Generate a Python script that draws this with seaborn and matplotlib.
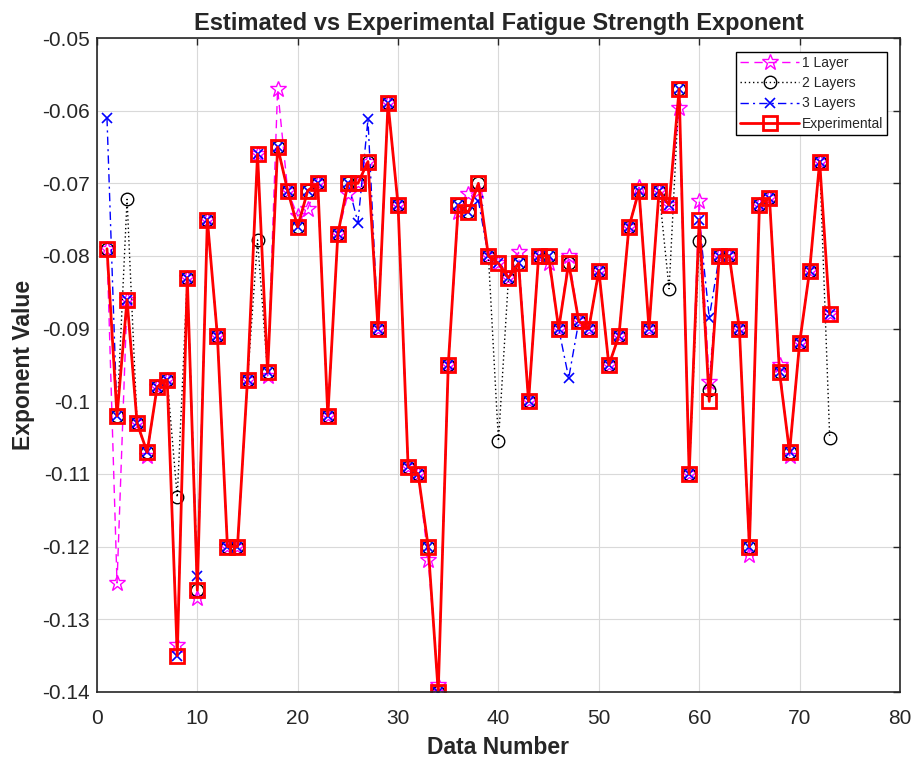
import matplotlib
matplotlib.use("Agg")
import matplotlib.pyplot as plt
import seaborn as sns
import numpy as np
import pandas as pd

data_number = list(range(1, 74))

experimental = [-0.079, -0.102, -0.086, -0.103, -0.107, -0.098, -0.097, -0.135, -0.083, -0.126,
                -0.075, -0.091, -0.120, -0.120, -0.097, -0.066, -0.096, -0.065, -0.071, -0.076,
                -0.071, -0.070, -0.102, -0.077, -0.070, -0.070, -0.067, -0.090, -0.059, -0.073,
                -0.109, -0.110, -0.120, -0.140, -0.095, -0.073, -0.074, -0.070, -0.080, -0.081,
                -0.083, -0.081, -0.100, -0.080, -0.080, -0.090, -0.081, -0.089, -0.090, -0.082,
                -0.095, -0.091, -0.076, -0.071, -0.090, -0.071, -0.073, -0.057, -0.110, -0.075,
                -0.100, -0.080, -0.080, -0.090, -0.120, -0.073, -0.072, -0.096, -0.107, -0.092,
                -0.082, -0.067, -0.088]

layer1 = [-0.079, -0.125, -0.086, -0.103, -0.1075, -0.098, -0.097, -0.1335, -0.083, -0.127,
          -0.075, -0.091, -0.120, -0.120, -0.097, -0.066, -0.0965, -0.057, -0.071, -0.0745,
          -0.0735, -0.070, -0.102, -0.077, -0.0715, -0.070, -0.067, -0.090, -0.059, -0.073,
          -0.109, -0.110, -0.1218, -0.139, -0.095, -0.074, -0.0715, -0.071, -0.080, -0.081,
          -0.083, -0.0795, -0.100, -0.080, -0.081, -0.090, -0.080, -0.089, -0.090, -0.082,
          -0.095, -0.091, -0.076, -0.0705, -0.090, -0.071, -0.073, -0.0597, -0.110, -0.0724,
          -0.0974, -0.080, -0.080, -0.090, -0.1212, -0.073, -0.072, -0.095, -0.1075, -0.092,
          -0.082, -0.067, -0.088]

layer2 = [-0.079, -0.102, -0.0722, -0.103, -0.107, -0.098, -0.097, -0.1132, -0.083, -0.126,
          -0.075, -0.091, -0.120, -0.120, -0.097, -0.0778, -0.096, -0.065, -0.071, -0.076,
          -0.071, -0.070, -0.102, -0.077, -0.070, -0.070, -0.067, -0.090, -0.059, -0.073,
          -0.109, -0.110, -0.120, -0.140, -0.095, -0.073, -0.074, -0.070, -0.080, -0.1055,
          -0.083, -0.081, -0.100, -0.080, -0.080, -0.090, -0.081, -0.089, -0.090, -0.082,
          -0.095, -0.091, -0.076, -0.071, -0.090, -0.071, -0.0845, -0.057, -0.110, -0.078,
          -0.0985, -0.080, -0.080, -0.090, -0.120, -0.073, -0.072, -0.096, -0.107, -0.092,
          -0.082, -0.067, -0.105]

layer3 = [-0.061, -0.102, -0.086, -0.103, -0.107, -0.098, -0.097, -0.135, -0.083, -0.124,
          -0.075, -0.091, -0.120, -0.120, -0.097, -0.066, -0.096, -0.065, -0.071, -0.076,
          -0.071, -0.070, -0.102, -0.077, -0.070, -0.0754, -0.0612, -0.090, -0.059, -0.073,
          -0.109, -0.110, -0.120, -0.140, -0.095, -0.073, -0.074, -0.0724, -0.080, -0.081,
          -0.083, -0.081, -0.100, -0.080, -0.080, -0.090, -0.0968, -0.089, -0.090, -0.082,
          -0.095, -0.091, -0.076, -0.071, -0.090, -0.071, -0.073, -0.057, -0.110, -0.075,
          -0.0885, -0.080, -0.080, -0.090, -0.120, -0.073, -0.072, -0.096, -0.107, -0.092,
          -0.082, -0.067, -0.088]

series_names = ["1 Layer", "2 Layers", "3 Layers", "Experimental"]
x_ticks = [0, 10, 20, 30, 40, 50, 60, 70, 80]
y_ticks = [-0.05, -0.06, -0.07, -0.08, -0.09, -0.10, -0.11, -0.12, -0.13, -0.14]
y_tick_labels = ["-0.05", "-0.06", "-0.07", "-0.08", "-0.09", "-0.1", "-0.11", "-0.12", "-0.13", "-0.14"]

sns.set_theme(style="whitegrid")
plt.rcParams["font.family"] = ["Liberation Sans", "DejaVu Sans"]

fig = plt.figure(figsize=(9.12, 7.6), dpi=100)
ax = fig.add_axes([0.1063, 0.0895, 0.8805, 0.8605])

styles = [
    dict(color="#ff00ff", linestyle=(0, (6, 4)), marker="*", markersize=12,
         markerfacecolor="none", markeredgecolor="#ff00ff", markeredgewidth=1.0, linewidth=1.0),
    dict(color="black", linestyle=(0, (1, 2)), marker="o", markersize=9,
         markerfacecolor="none", markeredgecolor="black", markeredgewidth=1.0, linewidth=1.0),
    dict(color="blue", linestyle=(0, (6, 3, 1.5, 3)), marker="x", markersize=7,
         markeredgecolor="blue", markeredgewidth=1.2, linewidth=1.0),
    dict(color="red", linestyle="-", marker="s", markersize=10,
         markerfacecolor="none", markeredgecolor="red", markeredgewidth=2.0, linewidth=2.0),
]

for name, vals, st in zip(series_names, [layer1, layer2, layer3, experimental], styles):
    df = pd.DataFrame({"Data Number": data_number, "Exponent Value": vals})
    sns.lineplot(data=df, x="Data Number", y="Exponent Value", ax=ax, label=name,
                 errorbar=None, sort=False, **st)

ax.set_xlim(0, 80)
ax.set_ylim(-0.14, -0.05)
ax.set_xticks(x_ticks)
ax.set_yticks(y_ticks)
ax.set_yticklabels(y_tick_labels)
ax.tick_params(axis="both", labelsize=15, colors="#262626", direction="in", length=5,
               width=1, top=True, right=True, pad=5)
ax.tick_params(axis="x", pad=12)
for side in ["left", "right", "top", "bottom"]:
    ax.spines[side].set_visible(True)
    ax.spines[side].set_color("#262626")
    ax.spines[side].set_linewidth(1.2)
ax.grid(True, color="#d9d9d9", linewidth=0.8)
ax.set_facecolor("white")

ax.set_title("Estimated vs Experimental Fatigue Strength Exponent", fontsize=17,
             fontweight="bold", color="#262626", pad=6)
ax.set_xlabel("Data Number", fontsize=16.5, fontweight="bold", color="#262626", labelpad=6)
ax.set_ylabel("Exponent Value", fontsize=16.5, fontweight="bold", color="#262626", labelpad=5)

leg = ax.legend(loc="upper right", bbox_to_anchor=(0.984, 0.979), fontsize=10,
                frameon=True, fancybox=False, edgecolor="black", framealpha=1,
                borderpad=0.3, labelspacing=0.45, handlelength=4.2, handletextpad=0.2,
                borderaxespad=0.0)
leg.get_frame().set_linewidth(1.0)

fig.savefig("out.png", dpi=100, facecolor="white")
